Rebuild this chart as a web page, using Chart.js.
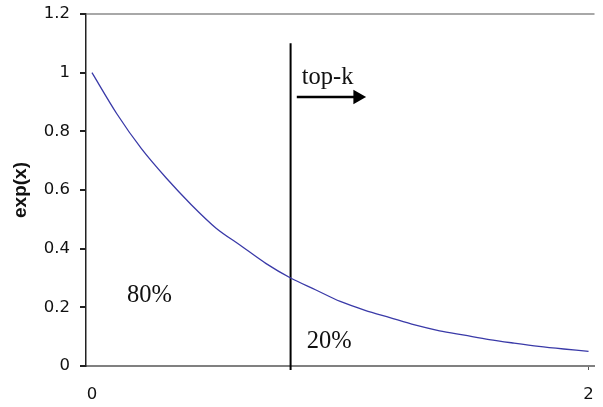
<!DOCTYPE html>
<html>
<head>
<meta charset="utf-8">
<script src="https://cdn.jsdelivr.net/npm/chart.js@4/dist/chart.umd.min.js"></script>
<style>
  html, body { margin: 0; padding: 0; background: #fff; }
  #wrap { width: 603px; height: 407px; }
</style>
</head>
<body>
<div id="wrap"><canvas id="chart"></canvas></div>
<script>
// curve values
const xValues = [0, 0.1, 0.2, 0.3, 0.4, 0.5, 0.6, 0.7, 0.8, 0.9, 1.0, 1.1, 1.2, 1.3, 1.4, 1.5, 1.6, 1.7, 1.8, 1.9, 2.0];
const yValues = [1, 0.86, 0.74, 0.64, 0.55, 0.47, 0.41, 0.35, 0.30, 0.26, 0.22, 0.19, 0.165, 0.14, 0.12, 0.105, 0.09, 0.078, 0.067, 0.058, 0.05];

// the cut line and the arrow next to it
const cutX = [0.8, 0.8];
const cutY = [-0.014, 1.1];
const arrowX = [0.825, 1.07];
const arrowY = [0.917, 0.917];

// tick labels
const xTicks = [0, 2];
const yTicks = [0, 0.2, 0.4, 0.6, 0.8, 1, 1.2];

// text inside the plot
const notes = ['top-k', '80%', '20%'];
const noteX = [0.845, 0.141, 0.865];
const noteY = [0.985, 0.239, 0.085];

const notePlugin = {
  id: 'notes',
  afterDatasetsDraw(chart) {
    const ctx = chart.ctx;
    const xs = chart.scales.x, ys = chart.scales.y;
    ctx.save();
    ctx.fillStyle = '#111';
    ctx.font = '24.5px "Liberation Serif", serif';
    ctx.textBaseline = 'middle';
    ctx.textAlign = 'left';
    notes.forEach((t, i) => {
      ctx.fillText(t, xs.getPixelForValue(noteX[i]), ys.getPixelForValue(noteY[i]));
    });
    ctx.restore();
  }
};

const tickFont = { family: '"DejaVu Sans", sans-serif', size: 16.5 };

new Chart(document.getElementById('chart').getContext('2d'), {
  type: 'scatter',
  data: {
    datasets: [
      {
        data: xValues.map((x, i) => ({ x: x, y: yValues[i] })),
        showLine: true,
        borderColor: '#3a3aa8',
        borderWidth: 1.3,
        pointRadius: 0,
        tension: 0.3
      },
      {
        data: cutX.map((x, i) => ({ x: x, y: cutY[i] })),
        showLine: true,
        borderColor: '#000',
        borderWidth: 2,
        pointRadius: 0,
        clip: false
      },
      {
        data: arrowX.map((x, i) => ({ x: x, y: arrowY[i] })),
        showLine: true,
        borderColor: '#000',
        backgroundColor: '#000',
        borderWidth: 2.5,
        pointStyle: 'triangle',
        pointRotation: 90,
        pointRadius: [0, 6],
        clip: false
      }
    ]
  },
  options: {
    responsive: true,
    maintainAspectRatio: false,
    animation: false,
    layout: { padding: { top: 14, right: 3, left: 0, bottom: 0 } },
    plugins: { legend: { display: false }, tooltip: { enabled: false } },
    scales: {
      x: {
        type: 'linear',
        min: -0.024,
        max: 2.024,
        afterBuildTicks: s => { s.ticks = xTicks.map(v => ({ value: v })); },
        afterFit: s => { s.height = 41; s.paddingLeft = 0; s.paddingRight = 0; },
        ticks: {
          color: '#111',
          font: tickFont,
          padding: 15,
          maxRotation: 0,
          callback: v => String(v)
        },
        grid: {
          drawOnChartArea: false,
          tickLength: 4,
          tickColor: c => (c.tick && c.tick.value === 0 ? 'rgba(0,0,0,0)' : '#555')
        },
        border: { color: '#808080', width: 2 }
      },
      y: {
        min: 0,
        max: 1.2,
        afterBuildTicks: s => { s.ticks = yTicks.map(v => ({ value: v })); },
        afterFit: s => { s.width = 86; s.paddingTop = 0; s.paddingBottom = 0; },
        ticks: {
          color: '#111',
          font: tickFont,
          padding: 10,
          callback: v => String(+v.toFixed(1))
        },
        grid: {
          tickLength: 6,
          tickColor: '#222',
          lineWidth: 2,
          color: c => (c.tick && c.tick.value === 1.2 ? '#a8a8a8' : 'rgba(0,0,0,0)')
        },
        border: { color: '#222', width: 1.5 },
        title: {
          display: true,
          text: 'exp(x)',
          color: '#111',
          font: { family: '"Liberation Sans", Arial, sans-serif', size: 19, weight: 'bold' },
          padding: { top: 9, bottom: 0 }
        }
      }
    }
  },
  plugins: [notePlugin]
});
</script>
</body>
</html>
